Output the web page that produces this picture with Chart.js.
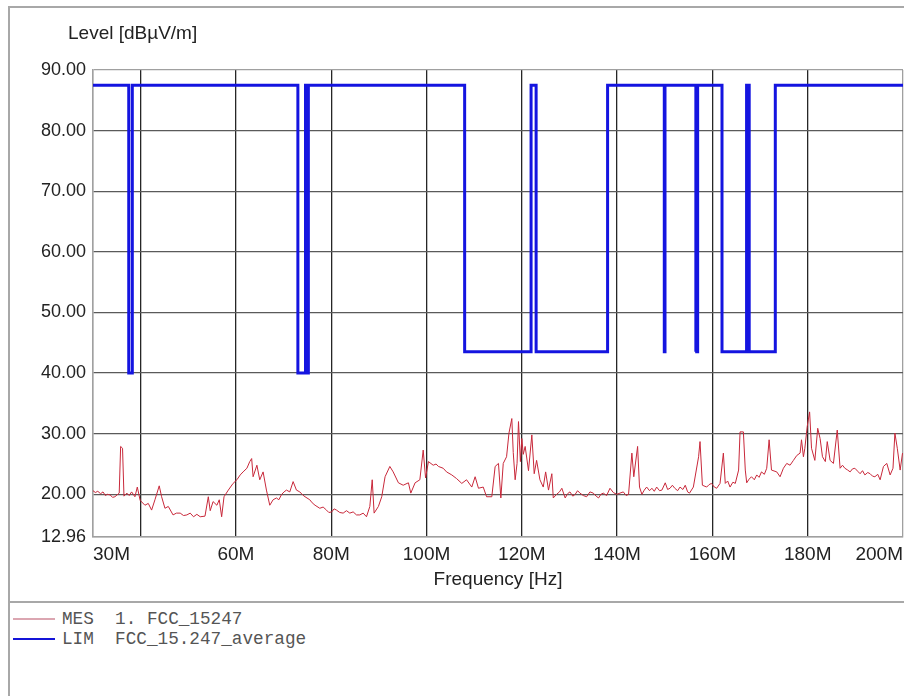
<!DOCTYPE html>
<html>
<head>
<meta charset="utf-8">
<script src="https://cdn.jsdelivr.net/npm/chart.js@4.4.0/dist/chart.umd.min.js"></script>
<style>
  html, body { margin: 0; padding: 0; background: #fff; }
  body { width: 904px; height: 696px; overflow: hidden; position: relative; }
  #frame { position: absolute; left: 8px; top: 6px; width: 900px; height: 700px;
           border-left: 2px solid #a8a8a8; border-top: 2px solid #a8a8a8; }
  #chart { position: absolute; left: 0; top: 0; }
  #legend { position: absolute; left: 0; top: 593px; width: 900px; height: 100px;
            border-top: 2px solid #a8a8a8; padding-top: 6px;
            font-family: "Liberation Mono", "Courier New", monospace; font-size: 17.7px; color: #555; }
  .row { display: flex; align-items: center; height: 20px; white-space: pre; }
  .swatch { width: 42px; margin-left: 3px; margin-right: 7px; }
</style>
</head>
<body>
<div id="frame">
  <canvas id="chart" width="899" height="593"></canvas>
  <div id="legend">
    <div class="row"><span class="swatch" style="border-top: 2px solid #dba6b1"></span>MES  1. FCC_15247</div>
    <div class="row"><span class="swatch" style="border-top: 2.5px solid #1414d8"></span>LIM  FCC_15.247_average</div>
  </div>
</div>
<script>
// axis ticks (MHz / dBuV/m)
const xTicks = [30, 40, 60, 80, 100, 120, 140, 160, 180, 200];
const xTickLabels = ['30M', '', '60M', '80M', '100M', '120M', '140M', '160M', '180M', '200M'];
const yTicks = [12.96, 20, 30, 40, 50, 60, 70, 80, 90];

const measFreq = [30.0, 30.5, 31.0, 31.6, 32.1, 32.6, 33.0, 33.6, 34.1, 34.6, 35.5, 35.8, 36.2, 36.5, 37.1,
  37.6, 38.1, 38.8, 39.3, 39.9,
  40.9, 41.6, 42.3, 43.0, 43.9, 44.4, 45.1, 45.8, 46.8, 47.5, 48.3, 49.0, 49.7, 50.4, 51.1, 51.8, 52.5, 53.5,
  54.2, 54.6, 55.2, 56.0, 56.5, 57.0, 57.5, 58.4, 59.4, 60.2, 60.9, 61.5, 62.3, 62.9, 63.3, 63.6, 64.4,
  65.0, 65.7, 66.4, 67.1, 67.8, 68.5, 69.0, 69.6, 70.1, 70.6, 71.3, 72.0, 72.7, 73.4, 74.0, 74.5, 75.5, 76.0,
  76.6, 77.6, 78.3, 79.0, 79.5, 80.1, 80.6, 81.1, 81.8, 82.5, 83.2, 83.9, 84.6, 85.3, 86.0, 86.7, 87.4, 88.1,
  88.6, 89.0, 89.9, 90.6, 91.3, 92.3, 93.0, 94.1, 95.1,
  96.2, 96.7, 97.6, 98.6, 99.3, 99.8, 100.4, 101.4, 102.0, 102.5, 103.5, 104.2, 105.3, 106.3, 107.4, 108.4,
  109.5, 110.2, 110.9, 111.9, 112.6, 113.7, 114.4, 115.1, 115.6, 116.1, 116.8, 117.3, 117.9, 118.2,
  118.6, 119.0, 119.3, 119.7, 120.0, 120.3, 120.7, 121.4, 122.1, 122.6, 123.1, 123.8, 124.5, 125.0,
  125.6, 126.3, 126.6, 127.3, 127.9, 128.4, 129.1, 129.6, 130.1, 130.7, 131.2, 131.7, 132.2, 132.9, 133.6,
  134.3, 135.0, 135.6, 136.1, 136.6, 137.1, 137.8, 138.5, 139.2,
  139.9, 140.6, 141.3, 141.9, 142.4, 143.1, 143.5, 144.3, 144.7, 145.2, 145.7, 146.2, 146.8, 147.3, 147.8,
  148.3, 148.9, 149.4, 150.1, 150.6, 151.1, 151.6, 152.1, 152.7, 153.2, 153.8, 154.3, 154.8, 155.2, 156.0,
  157.1, 157.4, 157.9, 158.8, 159.3, 159.8, 160.4, 160.9, 161.6, 162.3,
  162.7, 163.2, 163.7, 164.3, 164.8, 165.5, 165.8, 166.5, 166.9, 167.2, 167.7, 168.2, 168.8, 169.3, 169.8,
  170.3, 170.9, 171.4, 171.9, 172.4,
  173.5, 174.2, 174.9, 175.6, 176.3, 177.0, 177.7, 178.4, 178.7, 179.1, 179.4, 179.9, 180.4, 180.8,
  181.5, 182.1, 182.6, 183.1, 183.7, 184.1, 184.7, 185.4, 186.2, 186.8, 187.3, 187.8, 188.4, 188.9, 189.4,
  189.9, 190.5, 191.0, 191.5, 192.0, 192.6, 193.1, 193.6, 194.1, 194.7, 195.2, 195.9, 196.6, 197.3, 197.9,
  198.3, 198.8, 199.4, 199.9];
const measLevel = [20.6, 20.3, 20.5, 20.1, 20.4, 19.8, 20.0, 19.9, 19.5, 19.6, 20.2, 27.9, 27.6, 19.7, 20.2,
  19.8, 20.4, 19.6, 21.2, 19.0,
  18.2, 18.5, 17.4, 19.1, 21.4, 19.6, 17.7, 18.0, 16.6, 16.9, 16.9, 16.5, 16.6, 16.9, 16.3, 16.7, 16.3, 16.4,
  19.6, 17.3, 18.8, 18.2, 19.1, 16.3, 19.6, 20.7, 21.8, 22.4, 23.2, 23.7, 24.3, 25.4, 25.9, 22.9, 24.8,
  22.4, 23.7, 20.7, 18.2, 19.1, 19.4, 19.1, 20.0, 20.4, 20.7, 20.4, 22.1, 20.7, 20.4, 19.9, 19.6, 19.1, 18.6,
  18.2, 17.7, 17.9, 17.4, 17.0, 17.1, 17.6, 17.4, 17.0, 16.9, 17.3, 16.9, 17.1, 16.6, 16.6, 16.9, 16.3, 18.0,
  22.4, 16.9, 18.0, 19.6, 22.9, 24.6, 23.7, 21.9, 21.5,
  21.9, 20.2, 21.9, 22.4, 27.3, 22.7, 25.4, 24.8, 25.0, 24.6, 24.3, 23.7, 23.2, 22.6, 21.8, 22.4,
  21.2, 22.9, 21.0, 21.2, 19.6, 19.6, 24.6, 25.1, 19.4, 25.1, 26.2, 30.1, 32.5, 26.9,
  22.4, 25.1, 32.0, 25.4, 29.2, 26.6, 27.9, 23.9, 29.8, 23.4, 25.6, 22.4, 21.2, 23.7,
  20.7, 23.4, 19.4, 20.0, 20.4, 21.0, 19.4, 20.1, 20.4, 19.7, 20.0, 20.6, 20.2, 19.8, 19.6,
  20.4, 20.2, 19.7, 19.4, 20.0, 20.2, 19.8, 21.0, 20.3,
  20.0, 20.2, 20.4, 19.8, 20.0, 26.8, 22.9, 27.9, 21.2, 20.0, 20.7, 21.2, 20.6, 21.0, 20.5,
  21.2, 20.6, 20.7, 21.9, 20.8, 21.0, 21.5, 21.0, 20.6, 21.2, 20.8, 21.5, 20.4, 20.2, 21.2,
  26.2, 28.7, 21.5, 21.2, 21.6, 21.8, 21.2, 21.0, 21.8, 26.8,
  21.8, 22.2, 21.2, 22.0, 21.8, 24.0, 30.3, 30.3, 24.0, 21.9, 22.5, 22.9, 22.4, 23.2, 22.8,
  23.7, 23.3, 24.3, 29.0, 24.0,
  23.7, 22.9, 24.3, 25.1, 24.8, 25.6, 26.4, 26.8, 29.0, 26.2, 27.6, 31.2, 33.6, 27.6,
  25.6, 30.9, 29.2, 26.2, 25.4, 28.7, 25.6, 25.1, 30.6, 24.3, 24.8, 24.3, 24.0, 23.7, 24.2,
  24.3, 23.8, 23.4, 23.9, 23.2, 23.6, 23.4, 23.0, 22.9, 23.3, 22.4, 24.6, 25.1, 23.2, 24.3,
  30.1, 27.6, 24.0, 26.8];

// limit line corners
const limFreq = [30, 37.5, 37.5, 38.25, 38.25, 73, 73, 74.6, 74.6, 74.8, 74.8, 75.2, 75.2, 108, 108,
  121.94, 121.94, 123, 123, 138, 138, 149.9, 149.9, 150.05, 150.05, 156.52475, 156.52475, 156.52525,
  156.52525, 156.7, 156.7, 156.9, 156.9, 162.0125, 162.0125, 167.17, 167.17, 167.72, 167.72, 173.2,
  173.2, 200];
const limLevel = [87.5, 87.5, 40, 40, 87.5, 87.5, 40, 40, 87.5, 87.5, 40, 40, 87.5, 87.5, 43.5,
  43.5, 87.5, 87.5, 43.5, 43.5, 87.5, 87.5, 43.5, 43.5, 87.5, 87.5, 43.5, 43.5,
  87.5, 87.5, 43.5, 43.5, 87.5, 87.5, 43.5, 43.5, 87.5, 87.5, 43.5, 43.5,
  87.5, 87.5];

const FONT = '"Liberation Sans", Arial, sans-serif';

function toXY(xs, ys) {
  return xs.map((x, i) => ({ x: x, y: ys[i] }));
}

// "Level [dBuV/m]" sits above the y labels, left of the plot
const levelTitle = {
  id: 'levelTitle',
  afterDraw(chart) {
    const ctx = chart.ctx, a = chart.chartArea;
    ctx.save();
    ctx.font = '19px ' + FONT;
    ctx.fillStyle = '#222';
    ctx.textBaseline = 'middle';
    ctx.fillText('Level [dBµV/m]', a.left - 25, a.top - 36);
    ctx.restore();
  }
};

new Chart(document.getElementById('chart'), {
  type: 'line',
  data: {
    datasets: [{
      label: 'MES 1. FCC_15247',
      data: toXY(measFreq, measLevel),
      borderColor: '#c8283a',
      borderWidth: 1,
      pointRadius: 0,
      tension: 0
    }, {
      label: 'LIM FCC_15.247_average',
      data: toXY(limFreq, limLevel),
      borderColor: '#1414e0',
      borderWidth: 3,
      pointRadius: 0,
      tension: 0
    }]
  },
  options: {
    responsive: false,
    animation: false,
    layout: { padding: { top: 62, right: 1, left: 0, bottom: 0 } },
    plugins: {
      legend: { display: false },
      tooltip: { enabled: false }
    },
    scales: {
      x: {
        type: 'linear',
        min: 30,
        max: 200,
        afterBuildTicks: s => { s.ticks = xTicks.map(v => ({ value: v })); },
        afterFit: s => { s.height = 64; },
        grid: {
          color: c => (c.tick && (c.tick.value === 30 || c.tick.value === 200)) ? '#a0a0a0' : '#262626',
          lineWidth: 1.3,
          drawTicks: false
        },
        border: { color: '#a0a0a0', width: 1.5 },
        ticks: {
          autoSkip: false,
          maxRotation: 0,
          align: 'inner',
          padding: 6,
          color: '#222',
          font: { size: 19, family: FONT },
          callback: (v, i) => xTickLabels[i]
        },
        title: {
          display: true,
          text: 'Frequency [Hz]',
          color: '#222',
          font: { size: 19, family: FONT },
          padding: { top: 0, bottom: 10 }
        }
      },
      y: {
        min: 12.96,
        max: 90,
        afterBuildTicks: s => { s.ticks = yTicks.map(v => ({ value: v })); },
        afterFit: s => { s.width = 83; },
        grid: {
          color: c => (c.tick && (c.tick.value === 12.96 || c.tick.value === 90)) ? '#a0a0a0' : '#5a5a5a',
          lineWidth: 1.3,
          drawTicks: false
        },
        border: { color: '#a0a0a0', width: 1.5 },
        ticks: {
          padding: 7,
          color: '#222',
          font: { size: 18, family: FONT },
          callback: v => v.toFixed(2)
        }
      }
    }
  },
  plugins: [levelTitle]
});
</script>
</body>
</html>
